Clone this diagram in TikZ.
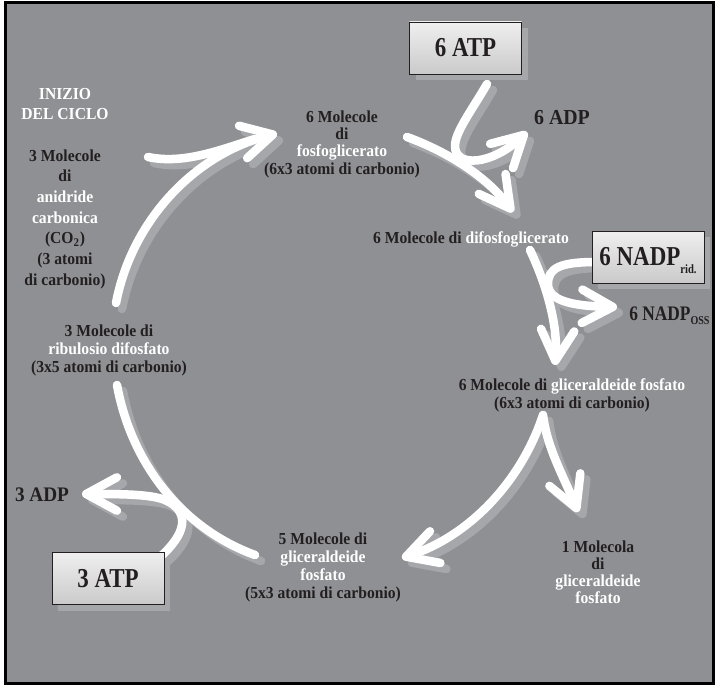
\documentclass[tikz,border=0pt]{standalone}
\usepackage{fontspec}
\setmainfont{Liberation Serif}[FakeStretch=0.93]
\newfontfamily\boxfont{Liberation Serif}[FakeStretch=0.84]
\usetikzlibrary{arrows.meta,shadows}
\definecolor{bg}{HTML}{8F9094}
\definecolor{shade}{HTML}{A6A7AB}
\definecolor{ink}{HTML}{231F20}
\definecolor{boxtop}{HTML}{EFEFEF}
\definecolor{boxbot}{HTML}{CACACA}
\tikzset{
  lbl/.style={font=\bfseries\fontsize{12.6}{13.5}\selectfont, text=ink, align=center, inner sep=0pt},
  wlbl/.style={lbl, text=white},
  biglbl/.style={font=\bfseries\fontsize{16}{18}\selectfont, text=ink, inner sep=0pt},
  boxst/.style={draw=ink, line width=0.6pt, top color=boxtop, bottom color=boxbot,
    minimum width=84pt, minimum height=39pt, inner sep=0pt,
    font=\boxfont\bfseries\fontsize{20.5}{22}\selectfont, text=ink,
    drop shadow={shadow xshift=4.5pt, shadow yshift=-4.5pt, fill=shade, opacity=1}},
  flowline/.style={line width=6.4pt, line cap=round, line join=round},
  tipped/.style={-{Straight Barb[length=23pt,width=25pt,round]}},
}
\newcommand\flowpaths[1]{%
  \draw[flowline,#1,tipped] (ribTop) .. controls (132,220) and (195,154) .. (fosL);
  \draw[flowline,#1] (co2s) .. controls (185,165) and (225,148) .. (co2e);
  \draw[flowline,#1,tipped] (fosR) .. controls (448,152) and (487,177) .. (difTip);
  \draw[flowline,#1,tipped] (atpOut) .. controls (472,110) and (455,132) .. (455,146) .. controls (455,168) and (492,165) .. (adpTip);
  \draw[flowline,#1,tipped] (difB) .. controls (547,286) and (558,326) .. (glT);
  \draw[flowline,#1,tipped] (nadpIn) .. controls (560,262) and (548,268) .. (548,284) .. controls (548,300) and (570,306) .. (nadpTip);
  \draw[flowline,#1,tipped] (glB) .. controls (521,482) and (469,536) .. (molTip);
  \draw[flowline,#1,tipped] (glB) .. controls (547,448) and (563,475) .. (oneTip);
  \draw[flowline,#1] (fiveS) .. controls (181,528) and (131,462) .. (ribBot);
  \draw[flowline,#1,tipped] (atp3Out) .. controls (185,535) and (192,512) .. (165,500) .. controls (150,494) and (120,494) .. (adp3Tip);
}
\begin{document}
\begin{tikzpicture}[x=0.75pt,y=-0.75pt]
\useasboundingbox (0,0) rectangle (716,685);
\fill[white] (0,0) rectangle (716,685);
\draw[line width=1.9pt, fill=bg] (5.5,2.5) rectangle (713.5,683.5);

% connector end points
\coordinate (ribTop) at (116,303);
\coordinate (fosL) at (277,133.5);
\coordinate (co2s) at (148,157);
\coordinate (co2e) at (255,139);
\coordinate (fosR) at (407,137);
\coordinate (difTip) at (513,212);
\coordinate (atpOut) at (487,84);
\coordinate (adpTip) at (527,132);
\coordinate (difB) at (530,250);
\coordinate (nadpIn) at (596,262);
\coordinate (nadpTip) at (617,307);
\coordinate (glT) at (555,365);
\coordinate (glB) at (543,415);
\coordinate (molTip) at (402,558);
\coordinate (oneTip) at (578,512);
\coordinate (fiveS) at (255,555);
\coordinate (ribBot) at (117,385);
\coordinate (atp3Out) at (160,557);
\coordinate (adp3Tip) at (82,494);

% shadows of the flows
\begin{scope}[transform canvas={shift={(4.5pt,-4.5pt)}}]
  \flowpaths{draw=shade}
\end{scope}
% white flows
\flowpaths{draw=white}

% boxes
\node[boxst] (atp6) at (465.5,48) {6 ATP};
\node[boxst] (nadprid) at (648,257) {6 NADP\smash{\raisebox{-6pt}{\fontsize{9.5}{10}\selectfont rid.}}};
\node[boxst] (atp3) at (108,578.5) {3 ATP};

% labels
\node[wlbl, font=\bfseries\fontsize{12.6}{15}\selectfont] (inizio) at (65,104) {INIZIO\\DEL CICLO};
\node[lbl, font=\bfseries\fontsize{12.6}{15.5}\selectfont] (co2) at (65,219) {3 Molecole\\di\\\textcolor{white}{anidride}\\\textcolor{white}{carbonica}\\(CO\textsubscript{2})\\(3 atomi\\di carbonio)};
\node[lbl, font=\bfseries\fontsize{12.6}{13}\selectfont] (fosfo) at (342,144) {6 Molecole\\di\\\textcolor{white}{fosfoglicerato}\\(6x3 atomi di carbonio)};
\node[biglbl] (adp6) at (562,118) {6 ADP};
\node[lbl] (difosfo) at (471,239) {6 Molecole di \textcolor{white}{difosfoglicerato}};
\node[biglbl, font=\boxfont\bfseries\fontsize{15.5}{18}\selectfont, anchor=base west] (nadposs) at (629,320) {6 NADP\raisebox{-3.5pt}{\fontsize{9}{10}\selectfont OSS}};
\node[lbl] (glic6) at (572,395) {6 Molecole di \textcolor{white}{gliceraldeide fosfato}\\(6x3 atomi di carbonio)};
\node[lbl] (ribulo) at (109,350) {3 Molecole di\\\textcolor{white}{ribulosio difosfato}\\(3x5 atomi di carbonio)};
\node[biglbl, font=\bfseries\fontsize{15.5}{18}\selectfont] (adp3) at (42,495) {3 ADP};
\node[lbl] (five) at (323,567) {5 Molecole di\\\textcolor{white}{gliceraldeide}\\\textcolor{white}{fosfato}\\(5x3 atomi di carbonio)};
\node[lbl, font=\bfseries\fontsize{12.6}{12.8}\selectfont] (one) at (598,572) {1 Molecola\\di\\\textcolor{white}{gliceraldeide}\\\textcolor{white}{fosfato}};
\end{tikzpicture}
\end{document}
